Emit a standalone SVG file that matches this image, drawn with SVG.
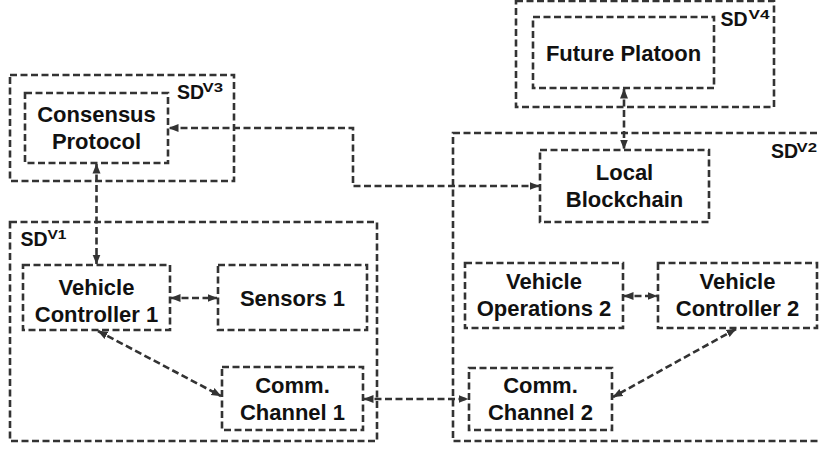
<svg xmlns="http://www.w3.org/2000/svg" width="819" height="450" viewBox="0 0 819 450">
<style>
.box{fill:none;stroke:#333;stroke-width:2.6;stroke-dasharray:7 3.5}
.conn{fill:none;stroke:#333;stroke-width:2.6;stroke-dasharray:7 3.5;marker-start:url(#ah);marker-end:url(#ah)}
.t{font-family:"Liberation Sans",Arial,sans-serif;font-weight:bold;font-size:22px;fill:#111;text-anchor:middle}
.sd{font-family:"Liberation Sans",Arial,sans-serif;font-weight:bold;font-size:19.5px;fill:#111}
.sup{font-family:"Liberation Sans",Arial,sans-serif;font-weight:bold;font-size:12px;fill:#111}
</style>
<defs>
<marker id="ah" markerUnits="userSpaceOnUse" markerWidth="10" markerHeight="10" viewBox="0 0 10 10" refX="9.5" refY="5" orient="auto-start-reverse">
<path d="M0,1 L10,5 L0,9 Z" fill="#333"/>
</marker>
</defs>

<g id="sdv4">
<rect class="box" x="516" y="1" width="258" height="106"/>
<text class="sd" x="720.5" y="26">SD</text>
<text class="sup" x="748.5" y="18.5" textLength="21" lengthAdjust="spacingAndGlyphs">V4</text>
</g>
<g id="sdv3">
<rect class="box" x="10" y="75" width="224" height="106"/>
<text class="sd" x="177" y="99">SD</text>
<text class="sup" x="202.5" y="92" textLength="20.5" lengthAdjust="spacingAndGlyphs">V3</text>
</g>
<g id="sdv2">
<rect class="box" x="453" y="133" width="380" height="308"/>
<text class="sd" x="771" y="158">SD</text>
<text class="sup" x="796.5" y="152" textLength="20.5" lengthAdjust="spacingAndGlyphs">V2</text>
</g>
<g id="sdv1">
<rect class="box" x="10" y="222" width="367" height="219"/>
<text class="sd" x="20.5" y="246">SD</text>
<text class="sup" x="47.5" y="238.5" textLength="19" lengthAdjust="spacingAndGlyphs">V1</text>
</g>

<g id="future-platoon">
<rect class="box" x="533" y="17" width="181" height="71"/>
<text class="t" x="623.5" y="61">Future Platoon</text>
</g>
<g id="consensus-protocol">
<rect class="box" x="25" y="93" width="143" height="70"/>
<text class="t" x="96.5" y="122">Consensus</text>
<text class="t" x="96.5" y="149">Protocol</text>
</g>
<g id="local-blockchain">
<rect class="box" x="540" y="150" width="169" height="72"/>
<text class="t" x="624.5" y="180">Local</text>
<text class="t" x="624.5" y="207">Blockchain</text>
</g>
<g id="vehicle-controller-1">
<rect class="box" x="23" y="265" width="147" height="65"/>
<text class="t" x="96.5" y="295">Vehicle</text>
<text class="t" x="96.5" y="322">Controller 1</text>
</g>
<g id="sensors-1">
<rect class="box" x="218" y="265" width="149" height="65"/>
<text class="t" x="292.5" y="306">Sensors 1</text>
</g>
<g id="comm-channel-1">
<rect class="box" x="222" y="367" width="141" height="63"/>
<text class="t" x="292.5" y="393">Comm.</text>
<text class="t" x="292.5" y="420">Channel 1</text>
</g>
<g id="vehicle-operations-2">
<rect class="box" x="465" y="263" width="158" height="65"/>
<text class="t" x="544" y="289">Vehicle</text>
<text class="t" x="544" y="316">Operations 2</text>
</g>
<g id="vehicle-controller-2">
<rect class="box" x="658" y="263" width="159" height="65"/>
<text class="t" x="737.5" y="289">Vehicle</text>
<text class="t" x="737.5" y="316">Controller 2</text>
</g>
<g id="comm-channel-2">
<rect class="box" x="469" y="368" width="143" height="62"/>
<text class="t" x="540.5" y="393">Comm.</text>
<text class="t" x="540.5" y="420">Channel 2</text>
</g>

<g id="connectors">
<path class="conn" d="M96.5,164 V264"/>
<path class="conn" d="M539,186 H353 V128 H169"/>
<path class="conn" d="M624,89 V149"/>
<path class="conn" d="M171,298 H217"/>
<path class="conn" d="M98,331 L221,396"/>
<path class="conn" d="M364,399 H468"/>
<path class="conn" d="M624,296 H657"/>
<path class="conn" d="M736,329 L613,397"/>
</g>
</svg>
